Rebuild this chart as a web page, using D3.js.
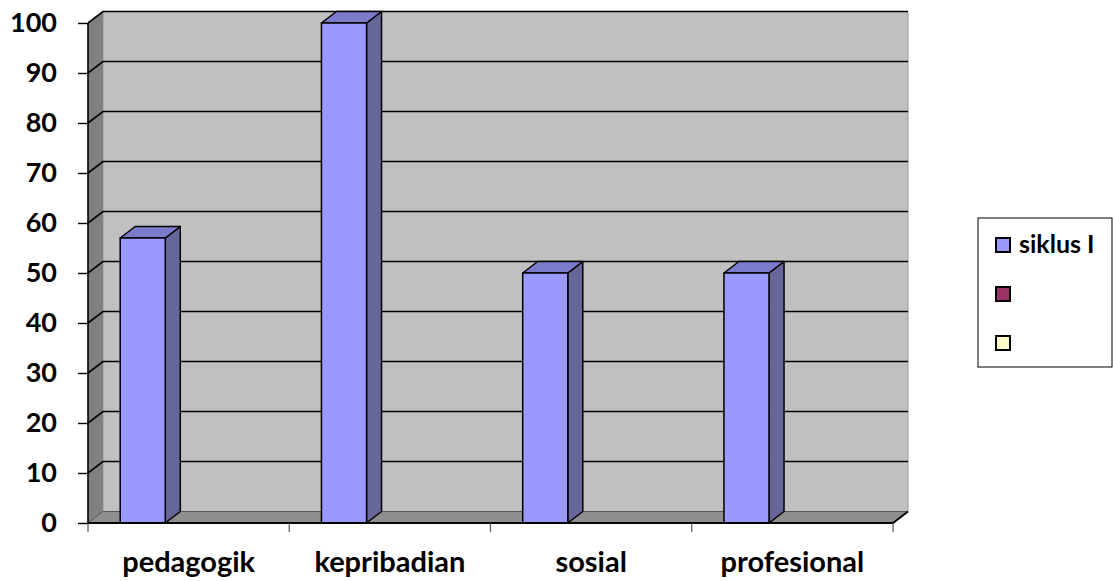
<!DOCTYPE html>
<meta charset="utf-8">
<style>
body { margin: 0; background: #fff; }
text { font-family: Lato, "Open Sans", sans-serif; font-weight: bold; fill: #000; }
</style>
<body>
<script src="https://d3js.org/d3.v7.min.js"></script>
<script>
var categories = ["pedagogik", "kepribadian", "sosial", "profesional"];
var siklus1 = [57, 100, 50, 50];
var yTicks = [0, 10, 20, 30, 40, 50, 60, 70, 80, 90, 100];
var legendItems = [
  { name: "siklus I", color: "#9999ff" },
  { name: "", color: "#993366" },
  { name: "", color: "#ffffcc" }
];

var width = 1113, height = 581;
var dx = 15, dy = -11.5; // depth offset of the 3d box

var svg = d3.select("body").append("svg")
    .attr("width", width)
    .attr("height", height);

var x = d3.scaleBand()
    .domain(categories)
    .range([88, 893]);

var y = d3.scaleLinear()
    .domain([0, 100])
    .range([523, 23]);

var x0 = x.range()[0], x1 = x.range()[1];
var pts = function(a) { return a.map(function(p) { return p.join(","); }).join(" "); };

// back wall
svg.append("polygon")
    .attr("points", pts([[x0 + dx, y(100) + dy], [x1 + dx, y(100) + dy], [x1 + dx, y(0) + dy], [x0 + dx, y(0) + dy]]))
    .attr("fill", "#c0c0c0")
    .attr("stroke", "#999")
    .attr("stroke-width", 1);

// left wall
svg.append("polygon")
    .attr("points", pts([[x0, y(0)], [x0, y(100)], [x0 + dx, y(100) + dy], [x0 + dx, y(0) + dy]]))
    .attr("fill", "#808080");

// floor
svg.append("polygon")
    .attr("points", pts([[x0, y(0)], [x1, y(0)], [x1 + dx, y(0) + dy], [x0 + dx, y(0) + dy]]))
    .attr("fill", "#8e8e8e");

// gridlines
var grid = svg.append("g").attr("fill", "none").attr("stroke", "#000").attr("stroke-width", 1.6);
yTicks.forEach(function(t) {
  grid.append("polyline")
      .attr("points", pts([[x0, y(t)], [x0 + dx, y(t) + dy], [x1 + dx, y(t) + dy]]));
});
grid.select("polyline:first-child").attr("stroke", "#555").attr("stroke-width", 1);

// left axis line and ticks
svg.append("line")
    .attr("x1", x0).attr("x2", x0)
    .attr("y1", y(0)).attr("y2", y(100))
    .attr("stroke", "#000").attr("stroke-width", 1.6);

var yAxis = svg.append("g")
    .attr("transform", "translate(" + x0 + ",0)")
    .call(d3.axisLeft(y).tickValues(yTicks).tickSize(10).tickPadding(21));
yAxis.select(".domain").remove();
yAxis.selectAll("line").attr("stroke", "#000").attr("stroke-width", 1.4);
yAxis.selectAll("text")
    .attr("font-size", 27)
    .attr("font-family", "Lato, sans-serif")
    .attr("font-weight", "bold")
    .attr("fill", "#000");

// bars
var bw = x.bandwidth() * 0.224;
var bo = x.bandwidth() * 0.16;
var bars = svg.append("g").attr("stroke", "#000").attr("stroke-width", 1.5).attr("stroke-linejoin", "round");
categories.forEach(function(c, i) {
  var bx = x(c) + bo, top = y(siklus1[i]), base = y(0);
  bars.append("polygon")
      .attr("points", pts([[bx + bw, top], [bx + bw + dx, top + dy], [bx + bw + dx, base + dy], [bx + bw, base]]))
      .attr("fill", "#666699");
  bars.append("polygon")
      .attr("points", pts([[bx, top], [bx + dx, top + dy], [bx + bw + dx, top + dy], [bx + bw, top]]))
      .attr("fill", "#7b7bcc");
  bars.append("rect")
      .attr("x", bx).attr("y", top)
      .attr("width", bw).attr("height", base - top)
      .attr("fill", "#9999ff");
});

// bottom axis
svg.append("polyline")
    .attr("points", pts([[x0, y(0)], [x1, y(0)], [x1 + dx, y(0) + dy]]))
    .attr("fill", "none").attr("stroke", "#000").attr("stroke-width", 1.8);

var xAxis = svg.append("g")
    .attr("transform", "translate(0," + y(0) + ")")
    .call(d3.axisBottom(x).tickSize(0).tickPadding(28));
xAxis.select(".domain").remove();
xAxis.selectAll("text")
    .attr("font-size", 29)
    .attr("font-family", "Lato, sans-serif")
    .attr("font-weight", "bold")
    .attr("fill", "#000");

// category boundary ticks
svg.append("g").selectAll("line")
    .data(categories.concat(["end"]))
    .join("line")
    .attr("x1", function(d, i) { return x0 + i * x.step(); })
    .attr("x2", function(d, i) { return x0 + i * x.step(); })
    .attr("y1", y(0)).attr("y2", y(0) + 9)
    .attr("stroke", "#555").attr("stroke-width", 1.2);

// legend
var legend = svg.append("g").attr("transform", "translate(978,218)");
legend.append("rect")
    .attr("width", 134).attr("height", 149)
    .attr("fill", "#fff").attr("stroke", "#000").attr("stroke-width", 1);
legend.selectAll("g.item")
    .data(legendItems)
    .join("g")
    .attr("class", "item")
    .attr("transform", function(d, i) { return "translate(18," + (20 + i * 49) + ")"; })
    .each(function(d) {
      var g = d3.select(this);
      g.append("rect")
          .attr("width", 14).attr("height", 14)
          .attr("fill", d.color).attr("stroke", "#000").attr("stroke-width", 2);
      g.append("text")
          .attr("x", 23).attr("y", 15)
          .attr("font-size", 25)
          .text(d.name);
    });
</script>
</body>
